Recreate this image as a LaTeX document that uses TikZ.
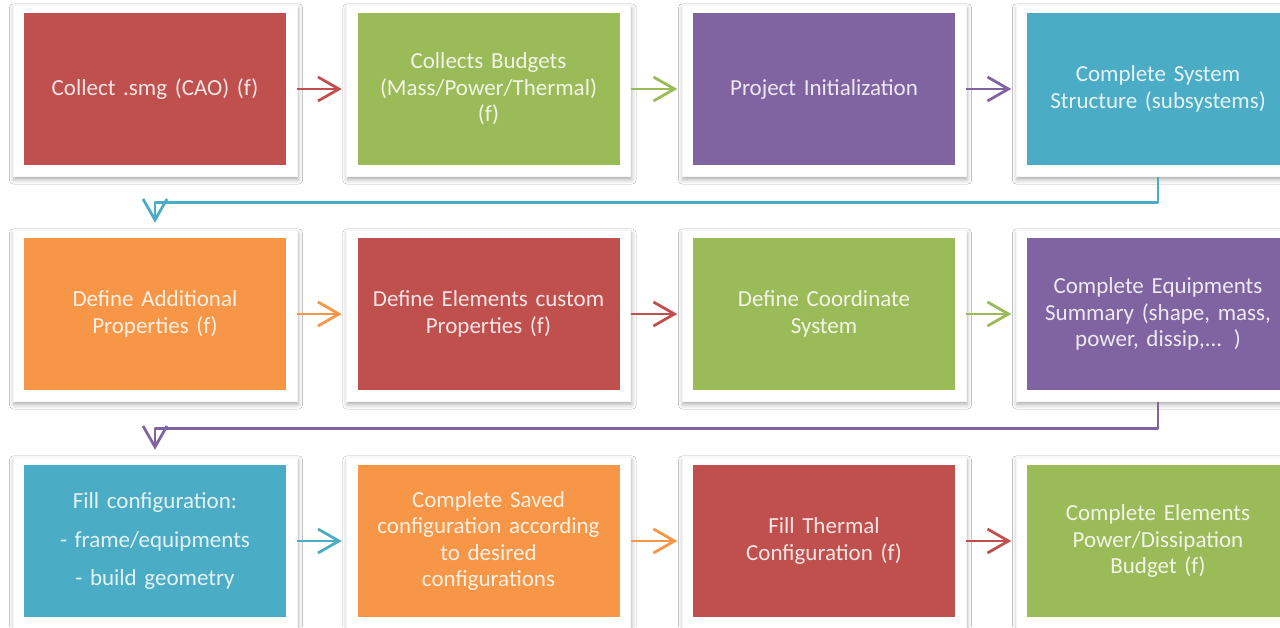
\documentclass[tikz,border=0pt]{standalone}
\usepackage{fontspec}
\setmainfont[WordSpace=0.85]{Carlito}
\usetikzlibrary{arrows.meta,calc,backgrounds,shadows.blur}

\definecolor{cred}{HTML}{C0504D}
\definecolor{cgreen}{HTML}{9BBB59}
\definecolor{cpurple}{HTML}{8064A2}
\definecolor{cblue}{HTML}{4BACC6}
\definecolor{corange}{HTML}{F79646}

\tikzset{
  x=1pt, y=1pt,
  stepbox/.style={rectangle, minimum width=262pt, minimum height=152pt,
    inner sep=0pt, text width=256pt, align=center, fill=#1,
    text=white, text opacity=0.86,
    font=\fontsize{23}{26.5}\selectfont},
  frame/.style={fill=white, draw=black!4, line width=0.5pt,
    blur shadow={shadow xshift=1pt, shadow yshift=-3.5pt,
      shadow blur radius=4.5pt, shadow opacity=32}},
  flow/.style={draw=#1, line width=2.8pt, line join=round,
    -{Straight Barb[length=21pt, width=24pt, line width=2.8pt]},
    shorten <=11pt, shorten >=15.5pt},
  turn/.style={draw=#1, line width=2.8pt, line join=round,
    -{Straight Barb[length=21pt, width=24pt, line width=2.8pt]}}
}

\begin{document}
\begin{tikzpicture}
\useasboundingbox (0,0) rectangle (1280,627);
\clip (0,0) rectangle (1280,627);

% row 1
\node[stepbox=cred]    (a1) at (155,538)   {Collect .smg (CAO) (f)};
\node[stepbox=cgreen]  (a2) at (488.5,538) {Collects Budgets\\(Mass/Power/Thermal)\\(f)};
\node[stepbox=cpurple] (a3) at (824,538)   {Project Initialization};
\node[stepbox=cblue]   (a4) at (1158,538)  {Complete System\\Structure (subsystems)};
% row 2
\node[stepbox=corange] (b1) at (155,313)   {Define Additional\\Properties (f)};
\node[stepbox=cred]    (b2) at (488.5,313) {Define Elements custom\\Properties (f)};
\node[stepbox=cgreen]  (b3) at (824,313)   {Define Coordinate\\System};
\node[stepbox=cpurple] (b4) at (1158,313)  {Complete Equipments\\Summary (shape, mass,\\power, dissip,... )};
% row 3
\node[stepbox=cblue]   (c1) at (155,86)    {Fill configuration:\\[12pt]- frame/equipments\\[12pt]- build geometry};
\node[stepbox=corange] (c2) at (488.5,86)  {Complete Saved\\configuration according\\to desired\\configurations};
\node[stepbox=cred]    (c3) at (824,86)    {Fill Thermal\\Configuration (f)};
\node[stepbox=cgreen]  (c4) at (1158,86)   {Complete Elements\\Power/Dissipation\\Budget (f)};

% page background, then white frames with soft shadows behind each step
\begin{scope}[on background layer]
  \fill[white] (0,0) rectangle (1280,627);
  \foreach \n in {a1,a2,a3,a4,b1,b2,b3,b4,c1,c2,c3,c4}
    \path[frame] ($(\n.north west)+(-11,8)$) rectangle ($(\n.south east)+(11,-11)$);
\end{scope}

% connectors along each row
\draw[flow=cred]    (a1.east) -- (a2.west);
\draw[flow=cgreen]  (a2.east) -- (a3.west);
\draw[flow=cpurple] (a3.east) -- (a4.west);
\draw[flow=corange] (b1.east) -- (b2.west);
\draw[flow=cred]    (b2.east) -- (b3.west);
\draw[flow=cgreen]  (b3.east) -- (b4.west);
\draw[flow=cblue]   (c1.east) -- (c2.west);
\draw[flow=corange] (c2.east) -- (c3.west);
\draw[flow=cred]    (c3.east) -- (c4.west);

% connectors wrapping to the next row
\draw[turn=cblue]   ([yshift=-12pt]a4.south) -- ++(0,-25) -| ([yshift=15pt]b1.north);
\draw[turn=cpurple] ([yshift=-12pt]b4.south) -- ++(0,-26) -| ([yshift=15pt]c1.north);
\end{tikzpicture}
\end{document}
